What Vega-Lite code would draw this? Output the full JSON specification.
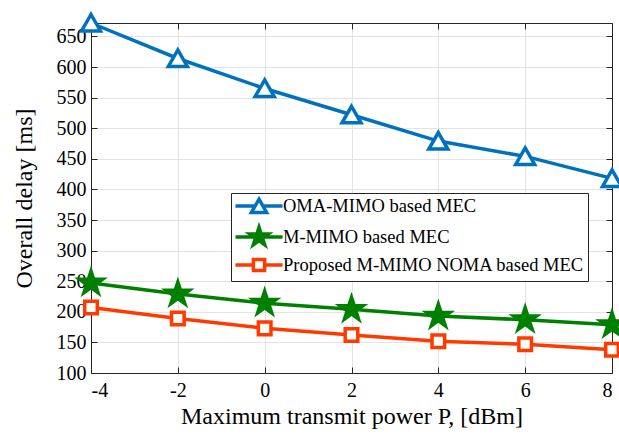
{
  "$schema": "https://vega.github.io/schema/vega-lite/v6.json",
  "width": 521,
  "height": 350,
  "autosize": "none",
  "padding": {"left": 91, "top": 23, "right": 7, "bottom": 66},
  "background": "white",
  "config": {
    "view": {"stroke": null},
    "font": "Liberation Serif",
    "axis": {
      "labelFont": "Liberation Serif",
      "labelFontSize": 20,
      "labelColor": "black",
      "titleFont": "Liberation Serif",
      "titleFontSize": 24,
      "titleFontWeight": "normal",
      "titleColor": "black",
      "domainColor": "#262626",
      "domainWidth": 1,
      "tickColor": "#262626",
      "tickSize": -6,
      "gridColor": "#e3e3e3",
      "gridWidth": 1
    }
  },
  "data": {
    "values": [
      {"x": -4, "y": 672, "s": "OMA-MIMO based MEC"},
      {"x": -2, "y": 614, "s": "OMA-MIMO based MEC"},
      {"x": 0, "y": 565, "s": "OMA-MIMO based MEC"},
      {"x": 2, "y": 522, "s": "OMA-MIMO based MEC"},
      {"x": 4, "y": 479, "s": "OMA-MIMO based MEC"},
      {"x": 6, "y": 454, "s": "OMA-MIMO based MEC"},
      {"x": 8, "y": 418, "s": "OMA-MIMO based MEC"},
      {"x": -4, "y": 247, "s": "M-MIMO based MEC"},
      {"x": -2, "y": 229, "s": "M-MIMO based MEC"},
      {"x": 0, "y": 214, "s": "M-MIMO based MEC"},
      {"x": 2, "y": 204, "s": "M-MIMO based MEC"},
      {"x": 4, "y": 193, "s": "M-MIMO based MEC"},
      {"x": 6, "y": 187, "s": "M-MIMO based MEC"},
      {"x": 8, "y": 179, "s": "M-MIMO based MEC"},
      {"x": -4, "y": 207, "s": "Proposed M-MIMO NOMA based MEC"},
      {"x": -2, "y": 189, "s": "Proposed M-MIMO NOMA based MEC"},
      {"x": 0, "y": 173, "s": "Proposed M-MIMO NOMA based MEC"},
      {"x": 2, "y": 162, "s": "Proposed M-MIMO NOMA based MEC"},
      {"x": 4, "y": 152, "s": "Proposed M-MIMO NOMA based MEC"},
      {"x": 6, "y": 147, "s": "Proposed M-MIMO NOMA based MEC"},
      {"x": 8, "y": 138, "s": "Proposed M-MIMO NOMA based MEC"}
    ]
  },
  "resolve": {"axis": {"x": "independent", "y": "independent"}},
  "layer": [
    {
      "mark": {"type": "line", "strokeWidth": 3.5, "clip": false},
      "encoding": {
        "x": {"field": "x", "type": "quantitative", "scale": {"domain": [-4, 8], "nice": false, "zero": false},
          "axis": {"orient": "bottom", "values": [-4, -2, 0, 2, 4, 6, 8], "labelExpr": "'' + datum.value", "title": "Maximum transmit power P, [dBm]", "labelPadding": 13, "titlePadding": 4, "grid": true}},
        "y": {"field": "y", "type": "quantitative", "scale": {"domain": [100, 672], "nice": false, "zero": false},
          "axis": {"orient": "left", "values": [100, 150, 200, 250, 300, 350, 400, 450, 500, 550, 600, 650], "title": "Overall delay [ms]", "labelPadding": 11, "titlePadding": 20, "grid": true}},
        "color": {"field": "s", "type": "nominal",
          "scale": {"domain": ["OMA-MIMO based MEC", "M-MIMO based MEC", "Proposed M-MIMO NOMA based MEC"], "range": ["#0072BD", "#008000", "#FF3A00"]}}
      }
    },
    {
      "transform": [{"filter": "false"}],
      "mark": {"type": "point", "filled": false, "strokeWidth": 3.5, "size": 256, "opacity": 1},
      "encoding": {
        "x": {"field": "x", "type": "quantitative", "axis": null},
        "y": {"field": "y", "type": "quantitative", "axis": null},
        "color": {"field": "s", "type": "nominal",
          "legend": {
            "title": null,
            "orient": "none",
            "legendX": 140,
            "legendY": 170,
            "direction": "vertical",
            "fillColor": "white",
            "strokeColor": "#262626",
            "padding": 3,
            "symbolSize": 256,
            "symbolOffset": 15,
            "labelOffset": 14,
            "labelFont": "Liberation Serif",
            "labelFontSize": 18.5,
            "labelColor": "black",
            "labelLimit": 0,
            "rowPadding": 0,
            "symbolStrokeWidth": 3.5
          }},
        "shape": {"field": "s", "type": "nominal",
          "scale": {"domain": ["OMA-MIMO based MEC", "M-MIMO based MEC", "Proposed M-MIMO NOMA based MEC"],
            "range": ["M-2.94,0H-0.5M0.5,0H2.94M0,-0.85L0.95,0.8L-0.95,0.8Z", "M-2.94,0H2.94M0,-1.2L0.269,-0.371L1.141,-0.371L0.436,0.142L0.705,0.971L0,0.458L-0.705,0.971L-0.436,0.142L-1.141,-0.371L-0.269,-0.371Z", "M-2.94,0H-0.7M0.7,0H2.94M-0.7,-0.7H0.7V0.7H-0.7Z"]}},
        "fill": {"field": "s", "type": "nominal",
          "scale": {"domain": ["OMA-MIMO based MEC", "M-MIMO based MEC", "Proposed M-MIMO NOMA based MEC"], "range": ["white", "#008000", "white"]}}
      }
    },
    {
      "transform": [{"filter": "datum.s === 'OMA-MIMO based MEC'"}],
      "mark": {"type": "point", "shape": "M0,-0.85L0.95,0.8L-0.95,0.8Z", "fill": "white", "stroke": "#0072BD", "strokeWidth": 3.5, "size": 400, "opacity": 1, "fillOpacity": 1, "clip": false},
      "encoding": {
        "x": {"field": "x", "type": "quantitative", "axis": null},
        "y": {"field": "y", "type": "quantitative", "axis": null}
      }
    },
    {
      "transform": [{"filter": "datum.s === 'M-MIMO based MEC'"}],
      "mark": {"type": "point", "shape": "M0,-1.2L0.269,-0.371L1.141,-0.371L0.436,0.142L0.705,0.971L0,0.458L-0.705,0.971L-0.436,0.142L-1.141,-0.371L-0.269,-0.371Z", "fill": "#008000", "stroke": "#008000", "strokeWidth": 3.5, "size": 400, "opacity": 1, "fillOpacity": 1, "clip": false},
      "encoding": {
        "x": {"field": "x", "type": "quantitative", "axis": null},
        "y": {"field": "y", "type": "quantitative", "axis": null}
      }
    },
    {
      "transform": [{"filter": "datum.s === 'Proposed M-MIMO NOMA based MEC'"}],
      "mark": {"type": "point", "shape": "M-0.63,-0.63H0.63V0.63H-0.63Z", "fill": "white", "stroke": "#FF3A00", "strokeWidth": 3.5, "size": 400, "opacity": 1, "fillOpacity": 1, "clip": false},
      "encoding": {
        "x": {"field": "x", "type": "quantitative", "axis": null},
        "y": {"field": "y", "type": "quantitative", "axis": null}
      }
    },
    {
      "mark": {"type": "point", "opacity": 0},
      "encoding": {
        "x": {"field": "x", "type": "quantitative",
          "axis": {"orient": "top", "values": [-4, -2, 0, 2, 4, 6, 8], "labels": false, "title": null, "grid": false}},
        "y": {"field": "y", "type": "quantitative",
          "axis": {"orient": "right", "values": [100, 150, 200, 250, 300, 350, 400, 450, 500, 550, 600, 650], "labels": false, "title": null, "grid": false}}
      }
    }
  ]
}
